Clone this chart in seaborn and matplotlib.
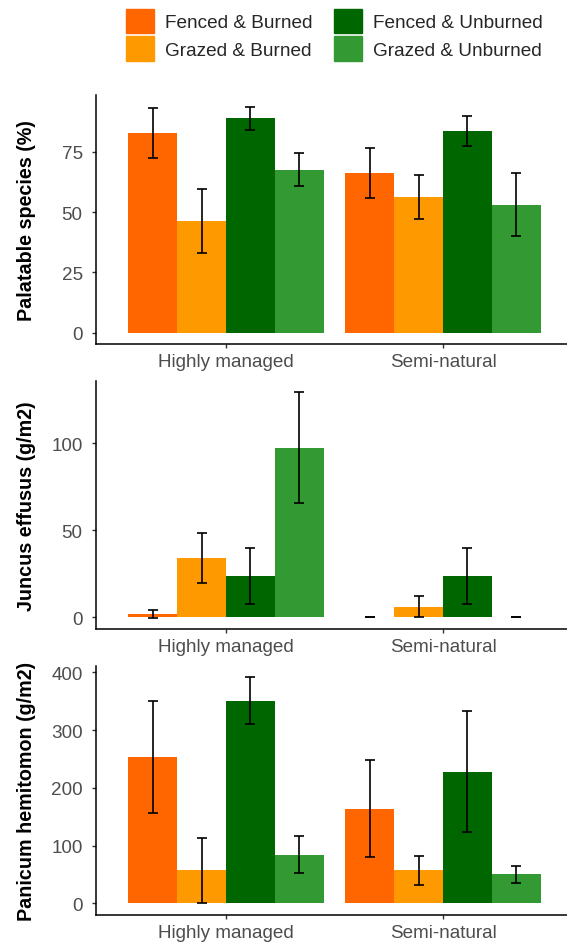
import pandas as pd
import seaborn as sns
import matplotlib.pyplot as plt

sites = ["Highly managed", "Semi-natural"]
treatments = ["Fenced & Burned", "Grazed & Burned", "Fenced & Unburned", "Grazed & Unburned"]
colors = ["#FF6600", "#FF9900", "#006600", "#339933"]

# values per site, in treatment order
palatable_hm = [82.8, 46.4, 88.9, 67.6]
palatable_hm_se = [10.3, 13.2, 4.8, 6.9]
palatable_sn = [66.2, 56.3, 83.5, 53.0]
palatable_sn_se = [10.2, 9.2, 6.3, 13.0]

juncus_hm = [2.1, 34.1, 23.8, 97.5]
juncus_hm_se = [2.4, 14.3, 15.9, 31.8]
juncus_sn = [0.0, 6.1, 23.8, 0.0]
juncus_sn_se = [0.0, 6.0, 16.3, 0.0]

panicum_hm = [253.8, 57.0, 350.5, 84.6]
panicum_hm_se = [97.0, 56.0, 40.6, 32.5]
panicum_sn = [164.0, 57.0, 227.9, 50.1]
panicum_sn_se = [83.7, 25.3, 104.7, 14.1]

panels = [
    ("Palatable species (%)", palatable_hm, palatable_hm_se, palatable_sn, palatable_sn_se, [0, 25, 50, 75]),
    ("Juncus effusus (g/m2)", juncus_hm, juncus_hm_se, juncus_sn, juncus_sn_se, [0, 50, 100]),
    ("Panicum hemitomon (g/m2)", panicum_hm, panicum_hm_se, panicum_sn, panicum_sn_se, [0, 100, 200, 300, 400]),
]

sns.set_theme(style="ticks")
plt.rcParams['font.family'] = ['Liberation Sans', 'DejaVu Sans']

fig = plt.figure(figsize=(5.67, 9.45), dpi=100)
boxes = [(0.635, 0.898), (0.333, 0.596), (0.031, 0.294)]

for (label, hm, hm_se, sn, sn_se, ticks), (b, t) in zip(panels, boxes):
    ax = fig.add_axes([0.169, b, 0.831, t - b])
    df = pd.DataFrame({
        "site": [sites[0]] * 4 + [sites[1]] * 4,
        "treatment": treatments * 2,
        "value": hm + sn,
        "se": hm_se + sn_se,
    })
    sns.barplot(data=df, x="site", y="value", hue="treatment", hue_order=treatments,
                palette=colors, width=0.9, errorbar=None, saturation=1, linewidth=0,
                ax=ax, legend=False)
    for cont, trt in zip(ax.containers, treatments):
        for bar, site in zip(cont, sites):
            row = df[(df.site == site) & (df.treatment == trt)].iloc[0]
            ax.errorbar(bar.get_x() + bar.get_width() / 2, row.value, yerr=row.se,
                        fmt="none", ecolor="black", elinewidth=1.2, capsize=3.8, capthick=1.2)
    lo = min(0, (df.value - df.se).min())
    hi = (df.value + df.se).max()
    pad = 0.05 * (hi - lo)
    ax.set_ylim(lo - pad, hi + pad)
    ax.set_xlim(-0.6, 1.571)
    ax.set_yticks(ticks)
    ax.set_xlabel("")
    ax.set_ylabel(label, fontsize=14.2, fontweight="bold", color="black")
    ax.yaxis.set_label_coords(-0.127, 0.5)
    ax.tick_params(labelsize=13.6, labelcolor="#4D4D4D", color="#333333", length=3, width=1)
    ax.tick_params(axis="y", pad=6.5)
    ax.tick_params(axis="x", pad=3.5)
    for s in ["top", "right"]:
        ax.spines[s].set_visible(False)
    for s in ["left", "bottom"]:
        ax.spines[s].set_color("black")
        ax.spines[s].set_linewidth(1.1)

handles = [plt.Rectangle((0, 0), 1, 1, color=c) for c in colors]
fig.legend(handles, treatments, loc="upper center", bbox_to_anchor=(0.59, 0.9995), ncol=2,
           frameon=False, fontsize=13.7, handlelength=1.47, handleheight=1.6,
           handletextpad=0.58, labelspacing=0.16, columnspacing=1.1, borderpad=0)

fig.savefig("out.png", dpi=100)
